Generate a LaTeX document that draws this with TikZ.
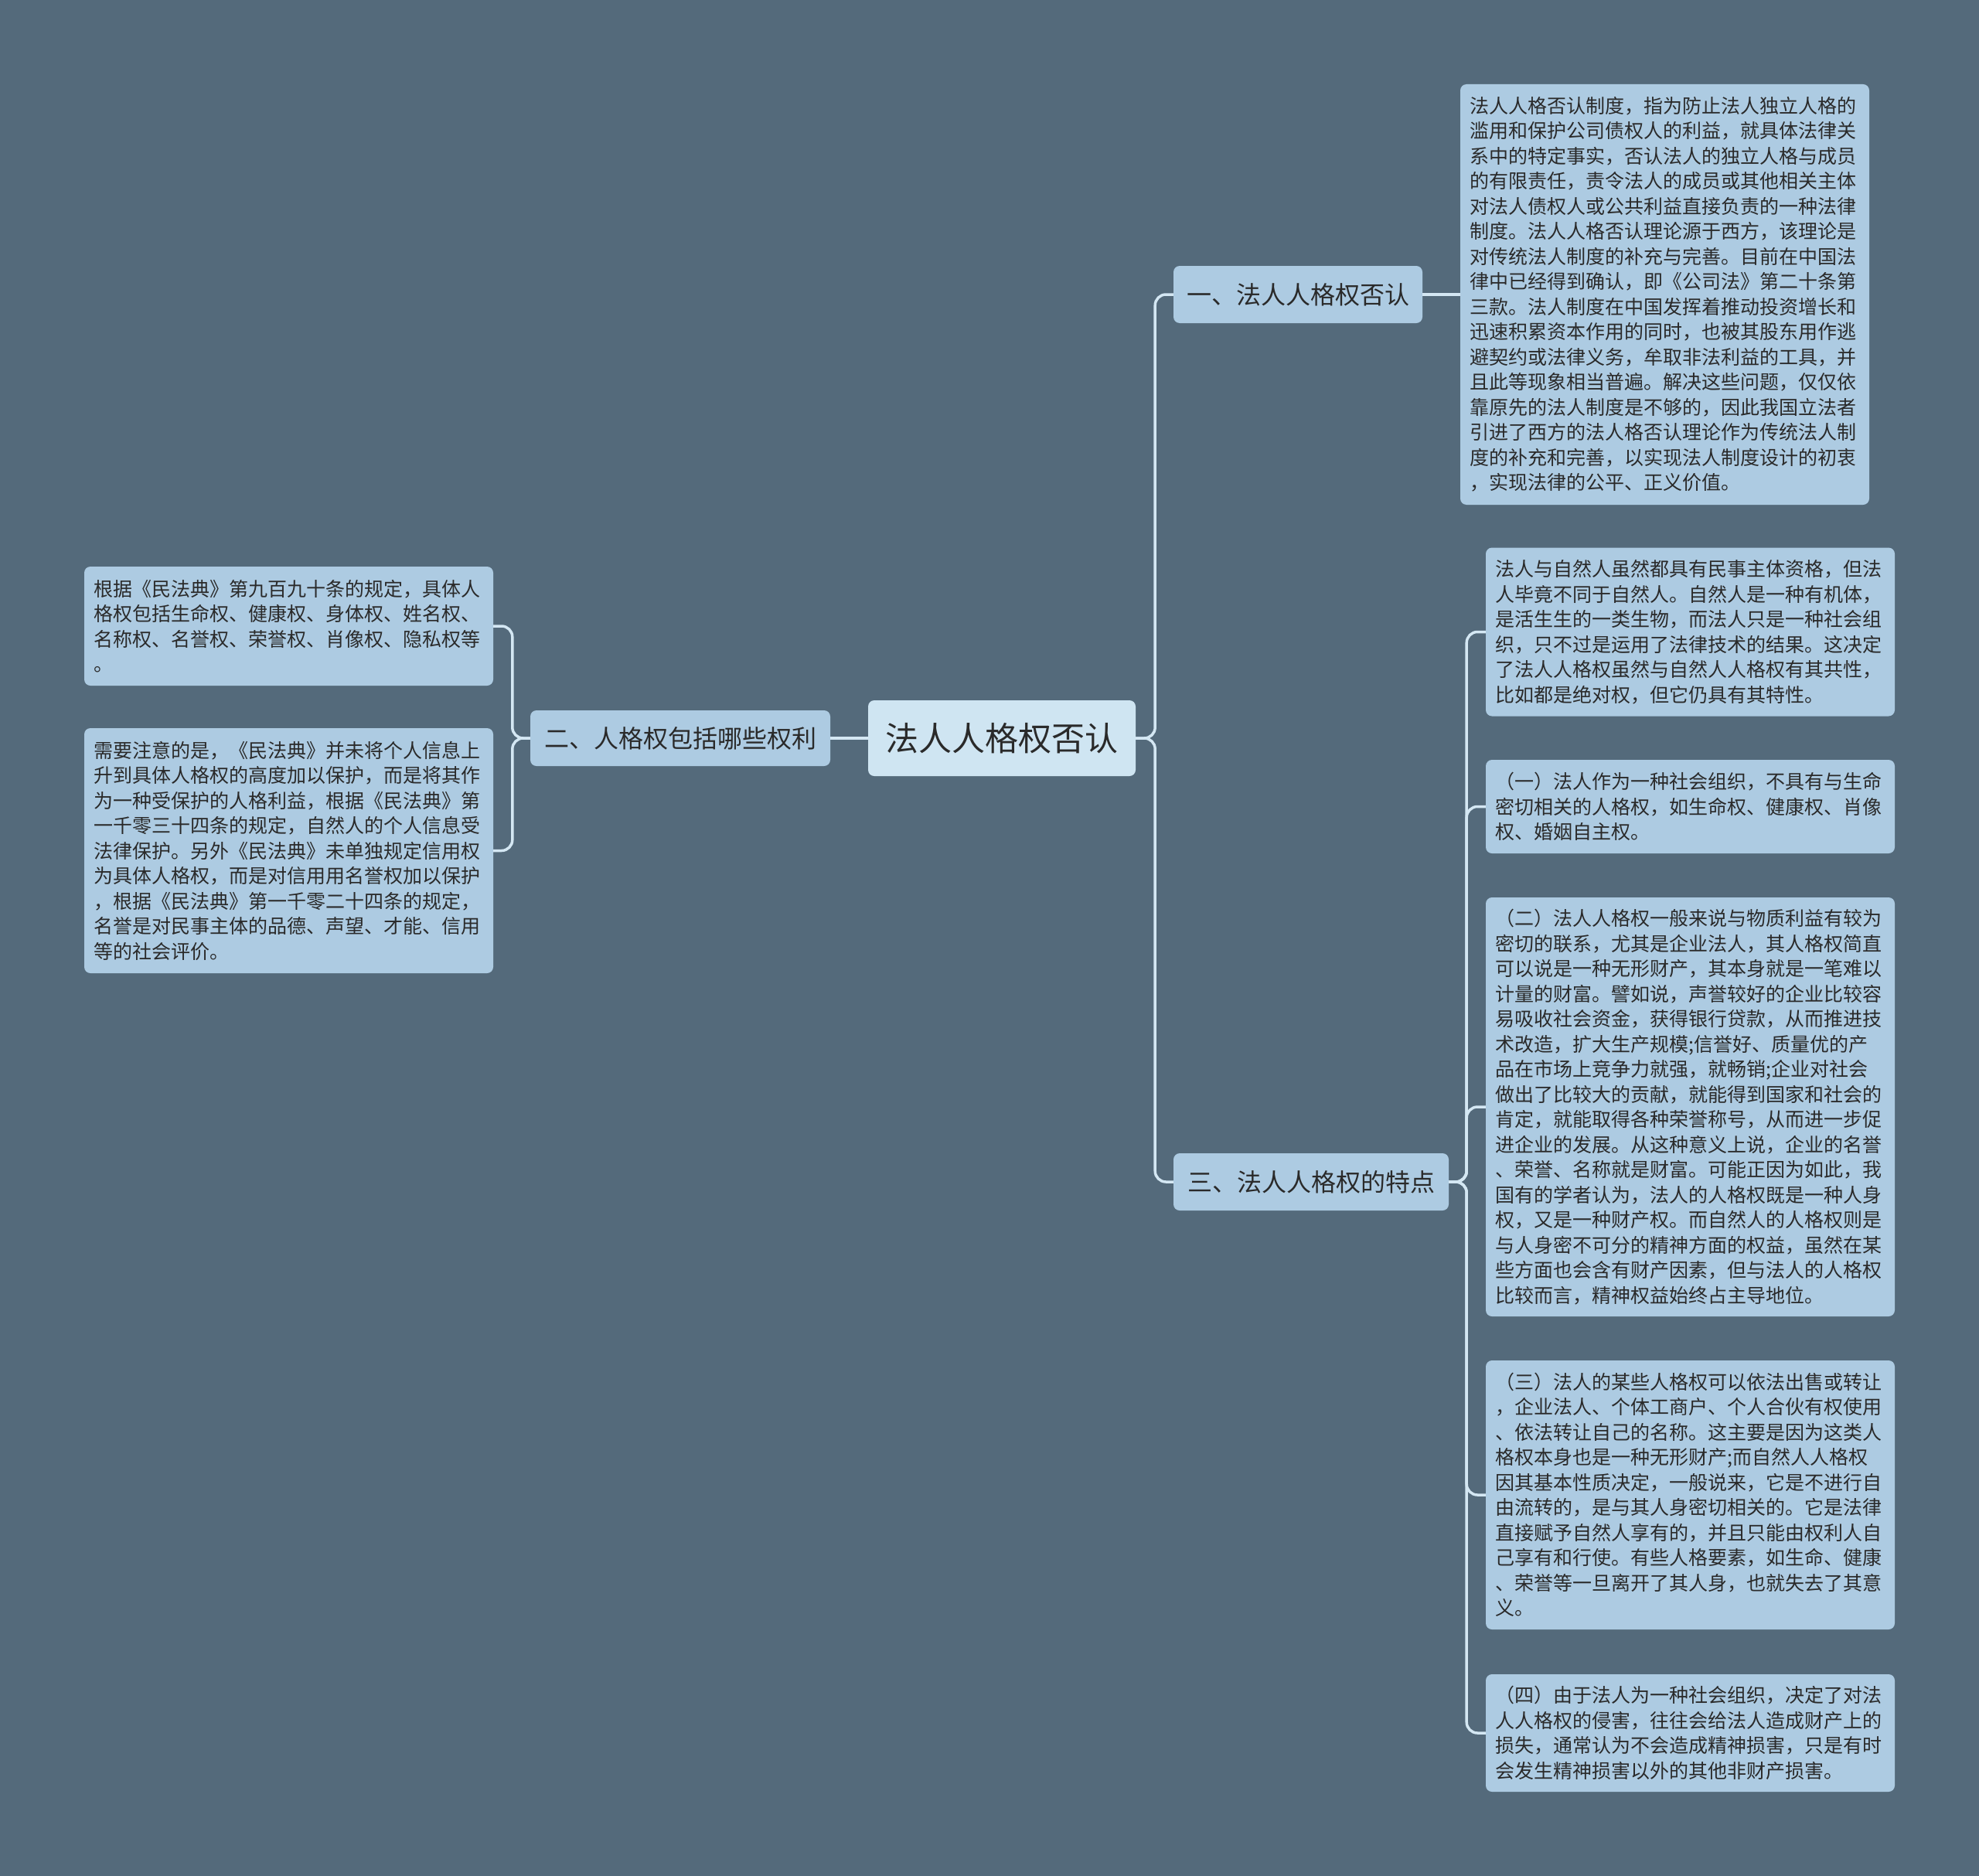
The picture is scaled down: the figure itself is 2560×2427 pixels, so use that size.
\documentclass[tikz,border=0pt]{standalone}
\usepackage{fontspec}
\setmainfont{Noto Sans CJK SC}
\definecolor{bgc}{HTML}{546A7B}
\definecolor{boxc}{HTML}{ADCBE2}
\definecolor{rootc}{HTML}{CFE5F2}
\definecolor{linec}{HTML}{D4E7F3}
\definecolor{txtc}{HTML}{2A2A2A}
\tikzset{
  leaf/.style={fill=boxc, rounded corners=8pt, text=txtc, align=left, inner xsep=12.5pt, inner ysep=0pt,
    text width=#1, font=\fontsize{25}{32.5}\selectfont},
  branch/.style={fill=boxc, rounded corners=8pt, text=txtc, align=center, inner sep=0pt,
    font=\fontsize{32}{38}\selectfont},
  rootbox/.style={fill=rootc, rounded corners=8pt, text=txtc, align=center, inner sep=0pt,
    font=\fontsize{43}{50}\selectfont},
  conn/.style={draw=linec, line width=3.5pt, rounded corners=14pt}
}
\begin{document}
\begin{tikzpicture}[x=1pt,y=-1pt]
\useasboundingbox (0,0) rectangle (2560,2427);
\fill[bgc] (0,0) rectangle (2560,2427);

\node[rootbox, minimum width=346pt, minimum height=98pt] (c) at (1296,955) {法人人格权否认};
\node[branch, minimum width=322pt, minimum height=74pt] (b1) at (1679,381) {一、法人人格权否认};
\node[branch, minimum width=388pt, minimum height=72pt] (b2) at (880,955) {二、人格权包括哪些权利};
\node[branch, minimum width=356pt, minimum height=74pt] (b3) at (1696,1529) {三、法人人格权的特点};

\node[leaf=504pt, minimum height=544pt] (t) at (2153.5,381) {法人人格否认制度，指为防止法人独立人格的\\
滥用和保护公司债权人的利益，就具体法律关\\
系中的特定事实，否认法人的独立人格与成员\\
的有限责任，责令法人的成员或其他相关主体\\
对法人债权人或公共利益直接负责的一种法律\\
制度。法人人格否认理论源于西方，该理论是\\
对传统法人制度的补充与完善。目前在中国法\\
律中已经得到确认，即《公司法》第二十条第\\
三款。法人制度在中国发挥着推动投资增长和\\
迅速积累资本作用的同时，也被其股东用作逃\\
避契约或法律义务，牟取非法利益的工具，并\\
且此等现象相当普遍。解决这些问题，仅仅依\\
靠原先的法人制度是不够的，因此我国立法者\\
引进了西方的法人格否认理论作为传统法人制\\
度的补充和完善，以实现法人制度设计的初衷\\
，实现法律的公平、正义价值。};

\node[leaf=504pt, minimum height=218pt] (r1) at (2186.5,817.5) {法人与自然人虽然都具有民事主体资格，但法\\
人毕竟不同于自然人。自然人是一种有机体，\\
是活生生的一类生物，而法人只是一种社会组\\
织，只不过是运用了法律技术的结果。这决定\\
了法人人格权虽然与自然人人格权有其共性，\\
比如都是绝对权，但它仍具有其特性。};

\node[leaf=504pt, minimum height=121pt] (r2) at (2186.5,1043.5) {（一）法人作为一种社会组织，不具有与生命\\
密切相关的人格权，如生命权、健康权、肖像\\
权、婚姻自主权。};

\node[leaf=504pt, minimum height=542pt] (r3) at (2186.5,1432) {（二）法人人格权一般来说与物质利益有较为\\
密切的联系，尤其是企业法人，其人格权简直\\
可以说是一种无形财产，其本身就是一笔难以\\
计量的财富。譬如说，声誉较好的企业比较容\\
易吸收社会资金，获得银行贷款，从而推进技\\
术改造，扩大生产规模;信誉好、质量优的产\\
品在市场上竞争力就强，就畅销;企业对社会\\
做出了比较大的贡献，就能得到国家和社会的\\
肯定，就能取得各种荣誉称号，从而进一步促\\
进企业的发展。从这种意义上说，企业的名誉\\
、荣誉、名称就是财富。可能正因为如此，我\\
国有的学者认为，法人的人格权既是一种人身\\
权，又是一种财产权。而自然人的人格权则是\\
与人身密不可分的精神方面的权益，虽然在某\\
些方面也会含有财产因素，但与法人的人格权\\
比较而言，精神权益始终占主导地位。};

\node[leaf=504pt, minimum height=348pt] (r4) at (2186.5,1934) {（三）法人的某些人格权可以依法出售或转让\\
，企业法人、个体工商户、个人合伙有权使用\\
、依法转让自己的名称。这主要是因为这类人\\
格权本身也是一种无形财产;而自然人人格权\\
因其基本性质决定，一般说来，它是不进行自\\
由流转的，是与其人身密切相关的。它是法律\\
直接赋予自然人享有的，并且只能由权利人自\\
己享有和行使。有些人格要素，如生命、健康\\
、荣誉等一旦离开了其人身，也就失去了其意\\
义。};

\node[leaf=504pt, minimum height=152pt] (r5) at (2186.5,2242) {（四）由于法人为一种社会组织，决定了对法\\
人人格权的侵害，往往会给法人造成财产上的\\
损失，通常认为不会造成精神损害，只是有时\\
会发生精神损害以外的其他非财产损害。};

\node[leaf=504pt, minimum height=154pt] (l1) at (373.5,810) {根据《民法典》第九百九十条的规定，具体人\\
格权包括生命权、健康权、身体权、姓名权、\\
名称权、名誉权、荣誉权、肖像权、隐私权等\\
。};

\node[leaf=504pt, minimum height=317pt] (l2) at (373.5,1100.5) {需要注意的是，《民法典》并未将个人信息上\\
升到具体人格权的高度加以保护，而是将其作\\
为一种受保护的人格利益，根据《民法典》第\\
一千零三十四条的规定，自然人的个人信息受\\
法律保护。另外《民法典》未单独规定信用权\\
为具体人格权，而是对信用用名誉权加以保护\\
，根据《民法典》第一千零二十四条的规定，\\
名誉是对民事主体的品德、声望、才能、信用\\
等的社会评价。};

\begin{scope}[on background layer/.style={}]
\draw[conn] (c.east) -- ++(25,0) |- (b1.west);
\draw[conn] (c.east) -- ++(25,0) |- (b3.west);
\draw[conn] (c.west) -- (b2.east);
\draw[conn] (b1.east) -- (t.west);
\draw[conn] (b2.west) -- ++(-23,0) |- (l1.east);
\draw[conn] (b2.west) -- ++(-23,0) |- (l2.east);
\draw[conn] (b3.east) -- ++(23,0) |- (r1.west);
\draw[conn] (b3.east) -- ++(23,0) |- (r2.west);
\draw[conn] (b3.east) -- ++(23,0) |- (r3.west);
\draw[conn] (b3.east) -- ++(23,0) |- (r4.west);
\draw[conn] (b3.east) -- ++(23,0) |- (r5.west);
\end{scope}
\end{tikzpicture}
\end{document}
